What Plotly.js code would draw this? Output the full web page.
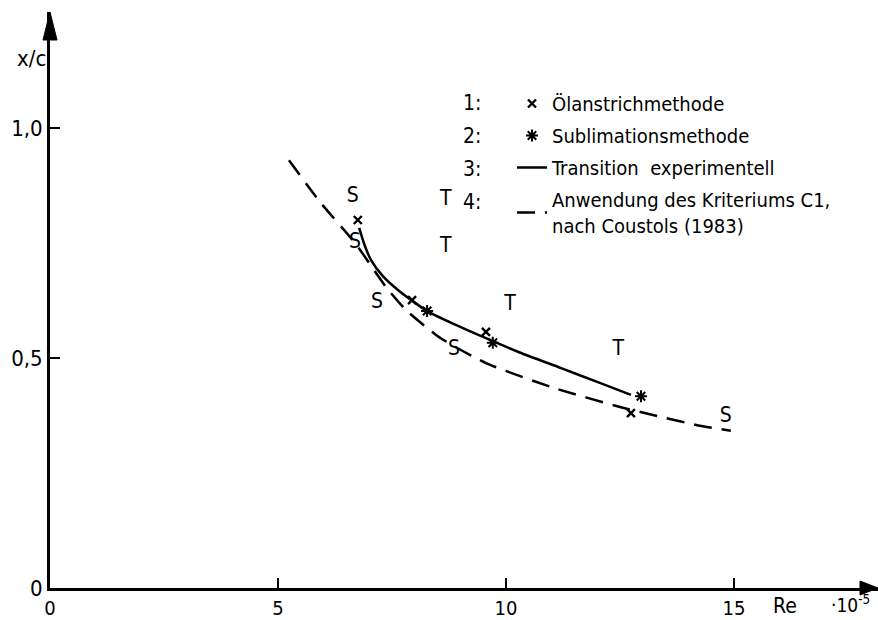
<!DOCTYPE html>
<html>
<head>
<meta charset="utf-8">
<script src="https://cdn.plot.ly/plotly-3.0.1.min.js"></script>
<style>html,body{margin:0;padding:0;background:#fff;}#chart{width:878px;height:620px;}</style>
</head>
<body>
<div id="chart"></div>
<script>
// ---- data (Re in units of 1e5, x/c) ----
const oelRe   = [6.75, 7.94, 9.56, 12.74];
const oelXc   = [0.800, 0.626, 0.557, 0.380];
const sublRe  = [8.27, 9.71, 12.96];
const sublXc  = [0.602, 0.533, 0.417];
const transRe = [6.78, 6.90, 7.04, 7.30, 7.63, 8.27, 8.90, 9.56, 10.30, 11.21, 12.00, 12.74];
const transXc = [0.783, 0.745, 0.713, 0.678, 0.648, 0.602, 0.572, 0.543, 0.512, 0.478, 0.448, 0.420];
const critRe  = [5.24, 5.94, 6.69, 7.37, 7.81, 8.57, 9.56, 11.05, 12.52, 13.40, 14.28, 14.93];
const critXc  = [0.930, 0.837, 0.750, 0.654, 0.604, 0.543, 0.489, 0.435, 0.393, 0.372, 0.352, 0.342];
const lblRe   = [6.64, 6.69, 7.17, 8.86, 14.82, 8.68, 8.68, 10.09, 12.46];
const lblXc   = [0.850, 0.750, 0.620, 0.517, 0.372, 0.843, 0.741, 0.615, 0.517];
const lblText = ["S", "S", "S", "S", "S", "T", "T", "T", "T"];
const xTicks = [0, 5, 10, 15];
const xTickText = ["0", "5", "10", "15"];
const yTicks = [0, 0.5, 1.0];
const yTickText = ["0", "0,5", "1,0"];
const seriesNames = ["Ölanstrichmethode", "Sublimationsmethode", "Transition  experimentell", "Anwendung des Kriteriums C1,<br>nach Coustols (1983)"];
const legendNums = ["1:", "2:", "3:", "4:"];

// ---- geometry ----
const L = 50, R = 0, T = 12, B = 32;
const W = 878 - L - R, H = 620 - T - B;
const pxPerX = 45.6, pxPerY = 460;
const px = v => (v - L) / W;          // pixel x -> paper
const py = v => (620 - B - v) / H;    // pixel y -> paper

const FONT = "DejaVu Sans Condensed, Liberation Sans Narrow, sans-serif";

const traces = [
  {x: oelRe, y: oelXc, mode: "markers", name: seriesNames[0], legendgroup: "a",
   marker: {symbol: "x-thin", size: 8, color: "#000", line: {width: 2.4, color: "#000"}}},
  {x: sublRe, y: sublXc, mode: "markers", name: seriesNames[1], legendgroup: "b",
   marker: {symbol: "asterisk", size: 10, color: "#000", line: {width: 2, color: "#000"}}},
  {x: transRe, y: transXc, mode: "lines", name: seriesNames[2], legendgroup: "c",
   line: {color: "#000", width: 2.5, shape: "spline", smoothing: 0.6}},
  {x: critRe, y: critXc, mode: "lines", name: seriesNames[3], legendgroup: "d",
   line: {color: "#000", width: 2.5, dash: "18px,10px", shape: "spline", smoothing: 0.6}},
  {x: lblRe, y: lblXc, mode: "text", text: lblText, showlegend: false, hoverinfo: "skip",
   textfont: {family: FONT, size: 21, color: "#000"}}
];

const ann = (x, y, text, size) => ({
  xref: "paper", yref: "paper", x: px(x), y: py(y), text: text, showarrow: false,
  xanchor: "center", yanchor: "middle",
  font: {family: FONT, size: size, color: "#000"}
});
const annotations = [
  ann(31, 59, "x/c", 22),
  ann(785, 606, "Re", 21),
  ann(850, 604, "·10<sup>-5</sup>", 19)
];
const numY = [103, 136, 169, 202];
legendNums.forEach((t, i) => annotations.push(ann(472, numY[i], t, 21)));

const shapes = [
  // y-axis arrowhead
  {type: "path", xref: "paper", yref: "paper",
   path: `M ${px(L)} ${py(12)} L ${px(L - 7)} ${py(40)} L ${px(L + 7)} ${py(40)} Z`,
   fillcolor: "#000", line: {color: "#000", width: 1}},
  // x-axis arrowhead
  {type: "path", xref: "paper", yref: "paper",
   path: `M ${px(878)} ${py(588)} L ${px(860)} ${py(581)} L ${px(860)} ${py(595)} Z`,
   fillcolor: "#000", line: {color: "#000", width: 1}}
];

const layout = {
  width: 878, height: 620,
  margin: {l: L, r: R, t: T, b: B, pad: 0},
  paper_bgcolor: "#fff", plot_bgcolor: "#fff",
  font: {family: FONT, size: 20, color: "#000"},
  showlegend: true,
  legend: {x: px(512), y: py(84), xanchor: "left", yanchor: "top",
           bgcolor: "rgba(0,0,0,0)", borderwidth: 0, tracegroupgap: 3,
           font: {family: FONT, size: 20, color: "#000"}},
  xaxis: {range: [0, W / pxPerX], showgrid: false, zeroline: false,
          showline: true, linecolor: "#000", linewidth: 3,
          ticks: "inside", ticklen: 10, tickwidth: 2, tickcolor: "#000",
          tickvals: xTicks, ticktext: xTickText,
          tickfont: {family: FONT, size: 20, color: "#000"}},
  yaxis: {range: [0, H / pxPerY], showgrid: false, zeroline: false,
          showline: true, linecolor: "#000", linewidth: 3,
          ticks: "inside", ticklen: 10, tickwidth: 2, tickcolor: "#000",
          tickvals: yTicks, ticktext: yTickText, ticklabelstandoff: 0,
          tickfont: {family: FONT, size: 22, color: "#000"}},
  annotations: annotations,
  shapes: shapes
};

Plotly.newPlot("chart", traces, layout, {displayModeBar: false, staticPlot: true});
</script>
</body>
</html>
